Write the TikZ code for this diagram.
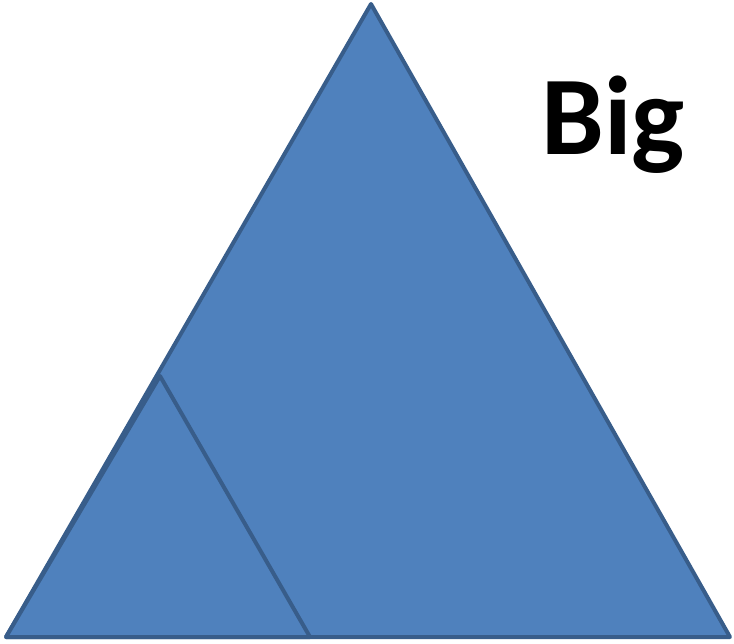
\documentclass[tikz,border=0pt]{standalone}
\usepackage{fontspec}
\newfontfamily\calib{Carlito}
\definecolor{fillblue}{HTML}{4F81BD}
\definecolor{edgeblue}{HTML}{385D8A}
\begin{document}
\begin{tikzpicture}[x=1pt,y=-1pt,
  tri/.style={fill=fillblue,draw=edgeblue,line width=4pt,line join=round}]
\useasboundingbox (0,0) rectangle (734,644);
\coordinate (A) at (371,4);
\coordinate (L) at (6,637);
\coordinate (R) at (730,637);
\coordinate (S) at (160,376);
\coordinate (M) at (310,637);
\draw[tri] (A) -- (R) -- (L) -- cycle;
\draw[tri] (S) -- (M) -- (L) -- cycle;
\node[anchor=base,inner sep=0pt,font=\calib\bfseries\fontsize{112}{112}\selectfont] (big) at (613,155) {Big};
\end{tikzpicture}
\end{document}
